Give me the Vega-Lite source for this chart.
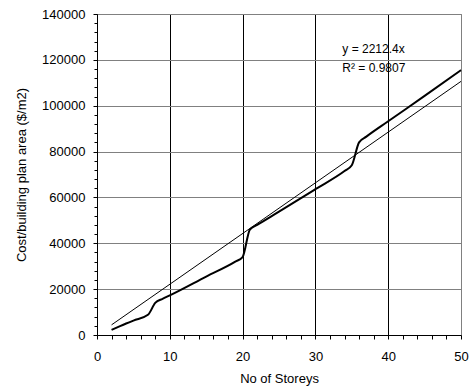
{
  "$schema": "https://vega.github.io/schema/vega-lite/v6.json",
  "autosize": "none",
  "width": 364,
  "height": 321,
  "padding": {"left": 97, "top": 14, "right": 8, "bottom": 55},
  "background": "white",
  "config": {
    "font": "Liberation Sans",
    "view": {"stroke": "#808080", "strokeWidth": 1},
    "axis": {"labelFont": "Liberation Sans", "titleFont": "Liberation Sans", "labelColor": "black", "titleColor": "black", "titleFontWeight": "normal", "labelFontSize": 13, "titleFontSize": 13, "domainColor": "black", "tickColor": "black"}
  },
  "datasets": {
    "actual": [
      {"storeys": 2, "cost": 2200},
      {"storeys": 4, "cost": 5000},
      {"storeys": 5, "cost": 6300},
      {"storeys": 7, "cost": 8800},
      {"storeys": 8, "cost": 14000},
      {"storeys": 9, "cost": 15800},
      {"storeys": 10, "cost": 17300},
      {"storeys": 15, "cost": 25500},
      {"storeys": 19, "cost": 32000},
      {"storeys": 20, "cost": 34000},
      {"storeys": 21, "cost": 46000},
      {"storeys": 22, "cost": 48000},
      {"storeys": 25, "cost": 53800},
      {"storeys": 30, "cost": 63600},
      {"storeys": 34, "cost": 71500},
      {"storeys": 35, "cost": 74000},
      {"storeys": 36, "cost": 84000},
      {"storeys": 37, "cost": 86500},
      {"storeys": 40, "cost": 93200},
      {"storeys": 45, "cost": 104300},
      {"storeys": 50, "cost": 115500}
    ],
    "trend": [
      {"storeys": 2, "cost": 4425},
      {"storeys": 50, "cost": 110620}
    ]
  },
  "layer": [
    {
      "data": {"name": "trend"},
      "mark": {"type": "line", "color": "black", "strokeWidth": 1},
      "encoding": {
        "x": {
          "field": "storeys", "type": "quantitative",
          "scale": {"domain": [0, 50], "nice": false},
          "title": "No of Storeys",
          "axis": {
            "values": [0,2,4,6,8,10,12,14,16,18,20,22,24,26,28,30,32,34,36,38,40,42,44,46,48,50],
            "tickCount": 200,
            "format": "d",
            "labelExpr": "datum.value % 10 === 0 ? datum.label : ''",
            "labelPadding": 11,
            "titlePadding": 9,
            "tickSize": 4,
            "grid": true,
            "gridColor": {"condition": {"test": "datum.value === 50", "value": "#808080"}, "value": "black"},
            "gridOpacity": {"condition": {"test": "datum.value % 10 === 0", "value": 1}, "value": 0},
            "labelOverlap": false,
            "labelFlush": false,
            "labelBound": false
          }
        },
        "y": {
          "field": "cost", "type": "quantitative",
          "scale": {"domain": [0, 140000], "nice": false},
          "title": "Cost/building plan area ($/m2)",
          "axis": {
            "values": [0,4000,8000,12000,16000,20000,24000,28000,32000,36000,40000,44000,48000,52000,56000,60000,64000,68000,72000,76000,80000,84000,88000,92000,96000,100000,104000,108000,112000,116000,120000,124000,128000,132000,136000,140000],
            "tickCount": 200,
            "labelExpr": "datum.value % 20000 === 0 ? datum.value : ''",
            "format": "d",
            "labelPadding": 8,
            "titlePadding": 13,
            "tickSize": {"condition": {"test": "datum.value % 20000 === 0", "value": 4}, "value": 3},
            "grid": true,
            "gridColor": "#808080",
            "gridOpacity": {"condition": {"test": "datum.value % 20000 === 0", "value": 1}, "value": 0},
            "labelOverlap": false,
            "labelFlush": false
          }
        }
      }
    },
    {
      "data": {"name": "actual"},
      "mark": {"type": "line", "color": "black", "strokeWidth": 2, "interpolate": "monotone"},
      "encoding": {
        "x": {"field": "storeys", "type": "quantitative"},
        "y": {"field": "cost", "type": "quantitative"}
      }
    },
    {
      "data": {"values": [{"label": "y = 2212.4x", "storeys": 33.7, "cost": 124900}, {"label": "R² = 0.9807", "storeys": 33.7, "cost": 116600}]},
      "mark": {"type": "text", "align": "left", "baseline": "middle", "fontSize": 12, "font": "Liberation Sans", "color": "black"},
      "encoding": {
        "x": {"field": "storeys", "type": "quantitative"},
        "y": {"field": "cost", "type": "quantitative"},
        "text": {"field": "label"}
      }
    }
  ]
}
